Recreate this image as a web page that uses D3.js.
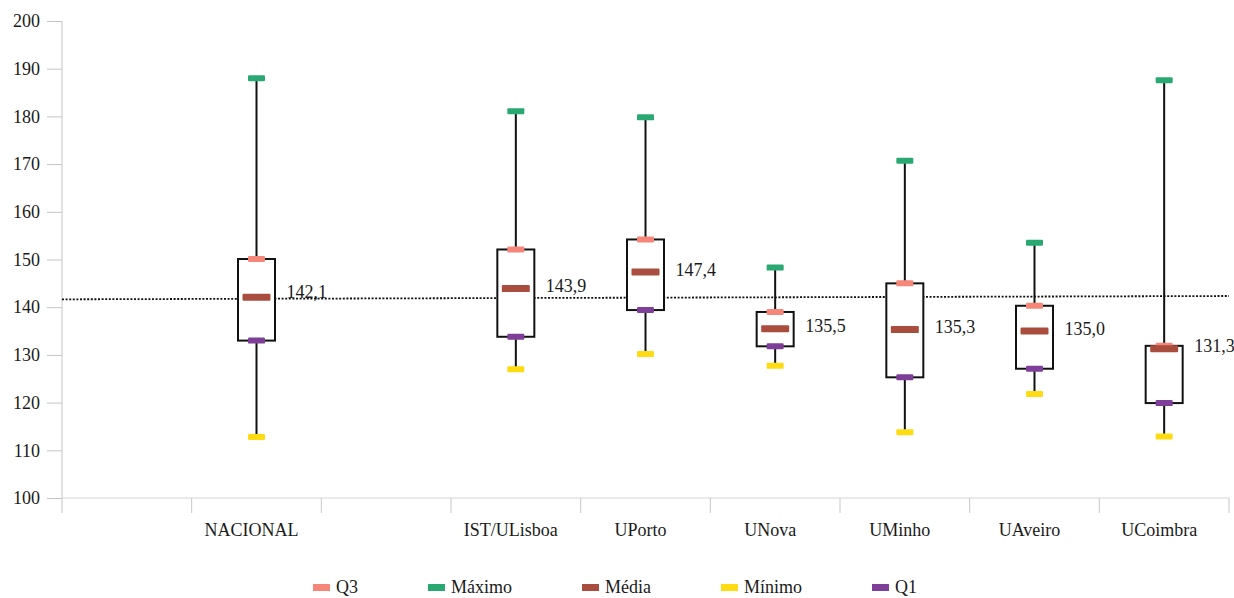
<!DOCTYPE html>
<html>
<head>
<meta charset="utf-8">
<script src="https://cdn.jsdelivr.net/npm/d3@7"></script>
<style>
  html, body { margin: 0; padding: 0; background: #ffffff; }
  svg { display: block; }
</style>
</head>
<body>
<svg id="chart" width="1234" height="598" font-family="Liberation Serif, Times New Roman, DejaVu Serif, serif"></svg>
<script>
// ---- data ----
const categories = ["", "NACIONAL", "", "IST/ULisboa", "UPorto", "UNova", "UMinho", "UAveiro", "UCoimbra"];
const maximo = [null, 188.0, null, 181.1, 179.8, 148.3, 170.7, 153.5, 187.6];
const q3     = [null, 150.1, null, 152.1, 154.2, 139.0, 145.0, 140.3, 131.9];
const media  = [null, 142.1, null, 143.9, 147.4, 135.5, 135.3, 135.0, 131.3];
const q1     = [null, 133.0, null, 133.8, 139.4, 131.8, 125.3, 127.1, 119.9];
const minimo = [null, 112.8, null, 127.0, 130.2, 127.7, 113.8, 121.8, 112.9];
const trendEnds = [141.65, 142.35];
const yTicks = [100, 110, 120, 130, 140, 150, 160, 170, 180, 190, 200];
const legendLabels = ["Q3", "Máximo", "Média", "Mínimo", "Q1"];

(function () {
// ---- styling ----
const colors = { q3: "#f4877a", max: "#2aa872", media: "#a94e3f", min: "#ffdc12", q1: "#7d3f98" };
const legendColors = [colors.q3, colors.max, colors.media, colors.min, colors.q1];
const FS = 18;
const FONT = "'Liberation Serif', 'Times New Roman', 'DejaVu Serif', serif";
const TXT = "#1a1a1a";

const svg = d3.select("#chart");
const pLeft = 62, pRight = 1229, pTop = 21, pBottom = 498;

const x = d3.scaleBand().domain(d3.range(categories.length)).range([pLeft, pRight]);
const y = d3.scaleLinear().domain([100, 200]).range([pBottom, pTop]);

function styleText(sel) {
  sel.style("font-family", FONT).style("font-size", FS + "px").attr("fill", TXT);
}

// y axis
const yAxis = svg.append("g").attr("transform", `translate(${pLeft},0)`)
  .call(d3.axisLeft(y).tickValues(yTicks).tickSize(15).tickPadding(7).tickFormat(d3.format("d")));
yAxis.attr("font-family", null).attr("font-size", null);
yAxis.select(".domain").remove();
yAxis.selectAll(".tick line").attr("stroke", "#c4c4c4");
styleText(yAxis.selectAll(".tick text"));
svg.append("line").attr("x1", pLeft).attr("x2", pLeft).attr("y1", pTop).attr("y2", pBottom + 15)
  .attr("stroke", "#c4c4c4").attr("stroke-width", 1);

// x axis
const xAxis = svg.append("g").attr("transform", `translate(0,${pBottom})`)
  .call(d3.axisBottom(x).tickSize(0).tickPadding(25).tickFormat(i => categories[i]));
xAxis.attr("font-family", null).attr("font-size", null);
xAxis.select(".domain").remove();
styleText(xAxis.selectAll(".tick text"));
xAxis.selectAll(".tick text").attr("dx", -5);
svg.append("line").attr("x1", pLeft).attr("x2", pRight).attr("y1", pBottom).attr("y2", pBottom)
  .attr("stroke", "#d6d6d6").attr("stroke-width", 1.2);
const edges = d3.range(1, categories.length + 1).map(i => x(i - 1) + x.bandwidth());
svg.append("g").selectAll("line").data(edges).join("line")
  .attr("x1", d => d).attr("x2", d => d).attr("y1", pBottom).attr("y2", pBottom + 15)
  .attr("stroke", "#c8c8c8").attr("stroke-width", 1);

// trend (dotted) line
svg.append("line")
  .attr("x1", pLeft).attr("x2", pRight)
  .attr("y1", y(trendEnds[0])).attr("y2", y(trendEnds[1]))
  .attr("stroke", "#111").attr("stroke-width", 1.8).attr("stroke-dasharray", "2,1.6");

const idx = d3.range(categories.length).filter(i => media[i] != null);
const cx = i => x(i) + x.bandwidth() / 2;
const boxW = 37;

// whiskers
svg.append("g").selectAll("line").data(idx).join("line")
  .attr("x1", cx).attr("x2", cx)
  .attr("y1", i => y(maximo[i])).attr("y2", i => y(minimo[i]))
  .attr("stroke", "#111").attr("stroke-width", 2);

// boxes
svg.append("g").selectAll("rect").data(idx).join("rect")
  .attr("x", i => cx(i) - boxW / 2).attr("width", boxW)
  .attr("y", i => y(q3[i])).attr("height", i => y(q1[i]) - y(q3[i]))
  .attr("fill", "#fff").attr("stroke", "#111").attr("stroke-width", 2);

// markers
function markers(arr, color, w, h) {
  svg.append("g").selectAll("rect").data(idx).join("rect")
    .attr("x", i => cx(i) - w / 2).attr("width", w)
    .attr("y", i => y(arr[i]) - h / 2).attr("height", h)
    .attr("rx", 1.2).attr("fill", color);
}
markers(maximo, colors.max, 17, 6);
markers(minimo, colors.min, 17, 6);
markers(q1, colors.q1, 17, 6);
markers(q3, colors.q3, 17, 6);
markers(media, colors.media, 28, 7);

// mean labels
const fmt = v => d3.format(".1f")(v).replace(".", ",");
const ml = svg.append("g").selectAll("text").data(idx).join("text")
  .attr("x", i => cx(i) + 30)
  .attr("y", i => y(media[i]) - (i === 1 ? 5 : 2))
  .attr("dy", "0.32em")
  .text(i => fmt(media[i]));
styleText(ml);

// legend
const lg = svg.append("g");
let lx = 313;
legendLabels.forEach((lab, k) => {
  lg.append("rect").attr("x", lx).attr("y", 584).attr("width", 17).attr("height", 7)
    .attr("fill", legendColors[k]);
  const t = lg.append("text").attr("x", lx + 23).attr("y", 587).attr("dy", "0.32em").text(lab);
  styleText(t);
  lx = lx + 23 + t.node().getComputedTextLength() + 70;
});
})();
</script>
</body>
</html>
